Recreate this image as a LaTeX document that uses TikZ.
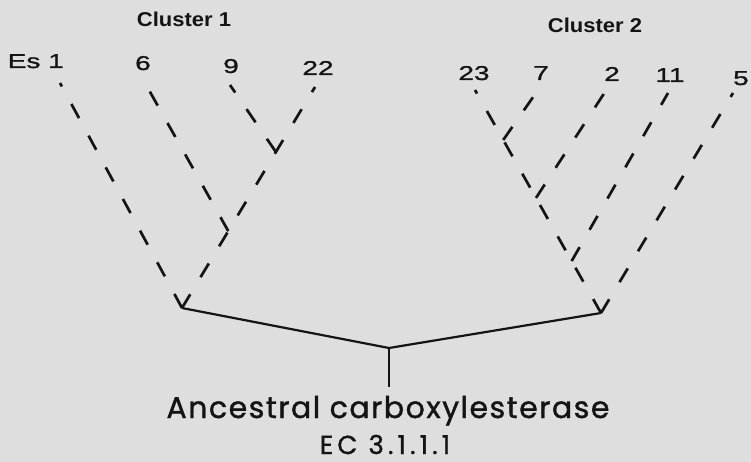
\documentclass[tikz,border=0pt]{standalone}
\usepackage{fontspec}
\newfontfamily\numfont[FakeStretch=1.4,FakeBold=1.2]{Liberation Sans}
\newfontfamily\clfont[FakeStretch=1.1]{Liberation Sans}
\newfontfamily\bigfont[FakeBold=1.2,LetterSpace=5]{Poppins}
\newfontfamily\ecfont[FakeBold=1.2,Numbers=Monospaced,LetterSpace=16]{Poppins}
\usetikzlibrary{calc}
\definecolor{bg}{RGB}{222,222,222}
\definecolor{ink}{RGB}{20,20,20}
\tikzset{
  leaf/.style={font=\numfont\fontsize{20}{22}\selectfont, text=ink, inner sep=0pt},
  clab/.style={font=\clfont\bfseries\fontsize{20}{22}\selectfont, text=ink, inner sep=0pt, anchor=base},
  title/.style={font=\bigfont\fontsize{30}{32}\selectfont, text=ink, inner sep=0pt, anchor=base, text depth=0pt},
  branch/.style={draw=ink, line width=2.7pt, dash pattern=on 16pt off 20pt, line cap=butt},
  trunk/.style={draw=ink, line width=2.2pt, line join=miter}
}
\begin{document}
\begin{tikzpicture}[x=1pt,y=-1pt]
\fill[bg] (0,0) rectangle (751,462);
\useasboundingbox (0,0) rectangle (751,462);

% cluster labels
\node[clab] (c1) at (184,27) {Cluster 1};
\node[clab] (c2) at (595,33) {Cluster 2};

% leaf labels
\node[leaf, anchor=base east] (l1) at (64,68) {Es 1};
\node[leaf, anchor=base] (l6) at (143,70) {6};
\node[leaf, anchor=base] (l9) at (231,73) {9};
\node[leaf, anchor=base] (l22) at (318,75) {22};
\node[leaf, anchor=base] (l23) at (474,80) {23};
\node[leaf, anchor=base] (l7) at (541,80) {7};
\node[leaf, anchor=base] (l2) at (612,81) {2};
\node[leaf, anchor=base] (l11) at (670,82) {11};
\node[leaf, anchor=base] (l5) at (741,85) {5};

% line tops
\coordinate (t1) at (60,83);
\coordinate (t6) at (145,83);
\coordinate (t9) at (230,85);
\coordinate (t22) at (315,87);
\coordinate (t23) at (475,90);
\coordinate (t7) at (538,90);
\coordinate (t2) at (605,92);
\coordinate (t11) at (668,93);
\coordinate (t5) at (733,93);

% roots and junctions
\coordinate (R1) at (182,308);
\coordinate (R2) at (601,313);
\coordinate (C) at (389,348);
\coordinate (S) at (389,387);
\coordinate (j922) at ($(R1)!0.706!(t22)$);
\coordinate (j6) at ($(R1)!0.348!(t22)$);
\coordinate (j7) at ($(R2)!0.776!(t23)$);
\coordinate (j2) at ($(R2)!0.516!(t23)$);
\coordinate (j11) at ($(R2)!0.233!(t23)$);

% cluster 1 branches
\draw[branch] (R1) -- (t1);
\draw[branch] (R1) -- (t22);
\draw[branch] (j6) -- (t6);
\draw[branch] (j922) -- (t9);

% cluster 2 branches
\draw[branch] (R2) -- (t23);
\draw[branch] (R2) -- (t5);
\draw[branch] (j7) -- (t7);
\draw[branch] (j2) -- (t2);
\draw[branch] (j11) -- (t11);

% trunk
\draw[trunk] (R1) -- (C) -- (R2);
\draw[trunk] (C) -- (S);

% bottom text
\node[title] (anc) at (388,418) {Ancestral carboxylesterase};
\node[title, font=\ecfont\fontsize{26}{28}\selectfont] (ec) at (385,454) {EC 3.1.1.1};
\end{tikzpicture}
\end{document}
